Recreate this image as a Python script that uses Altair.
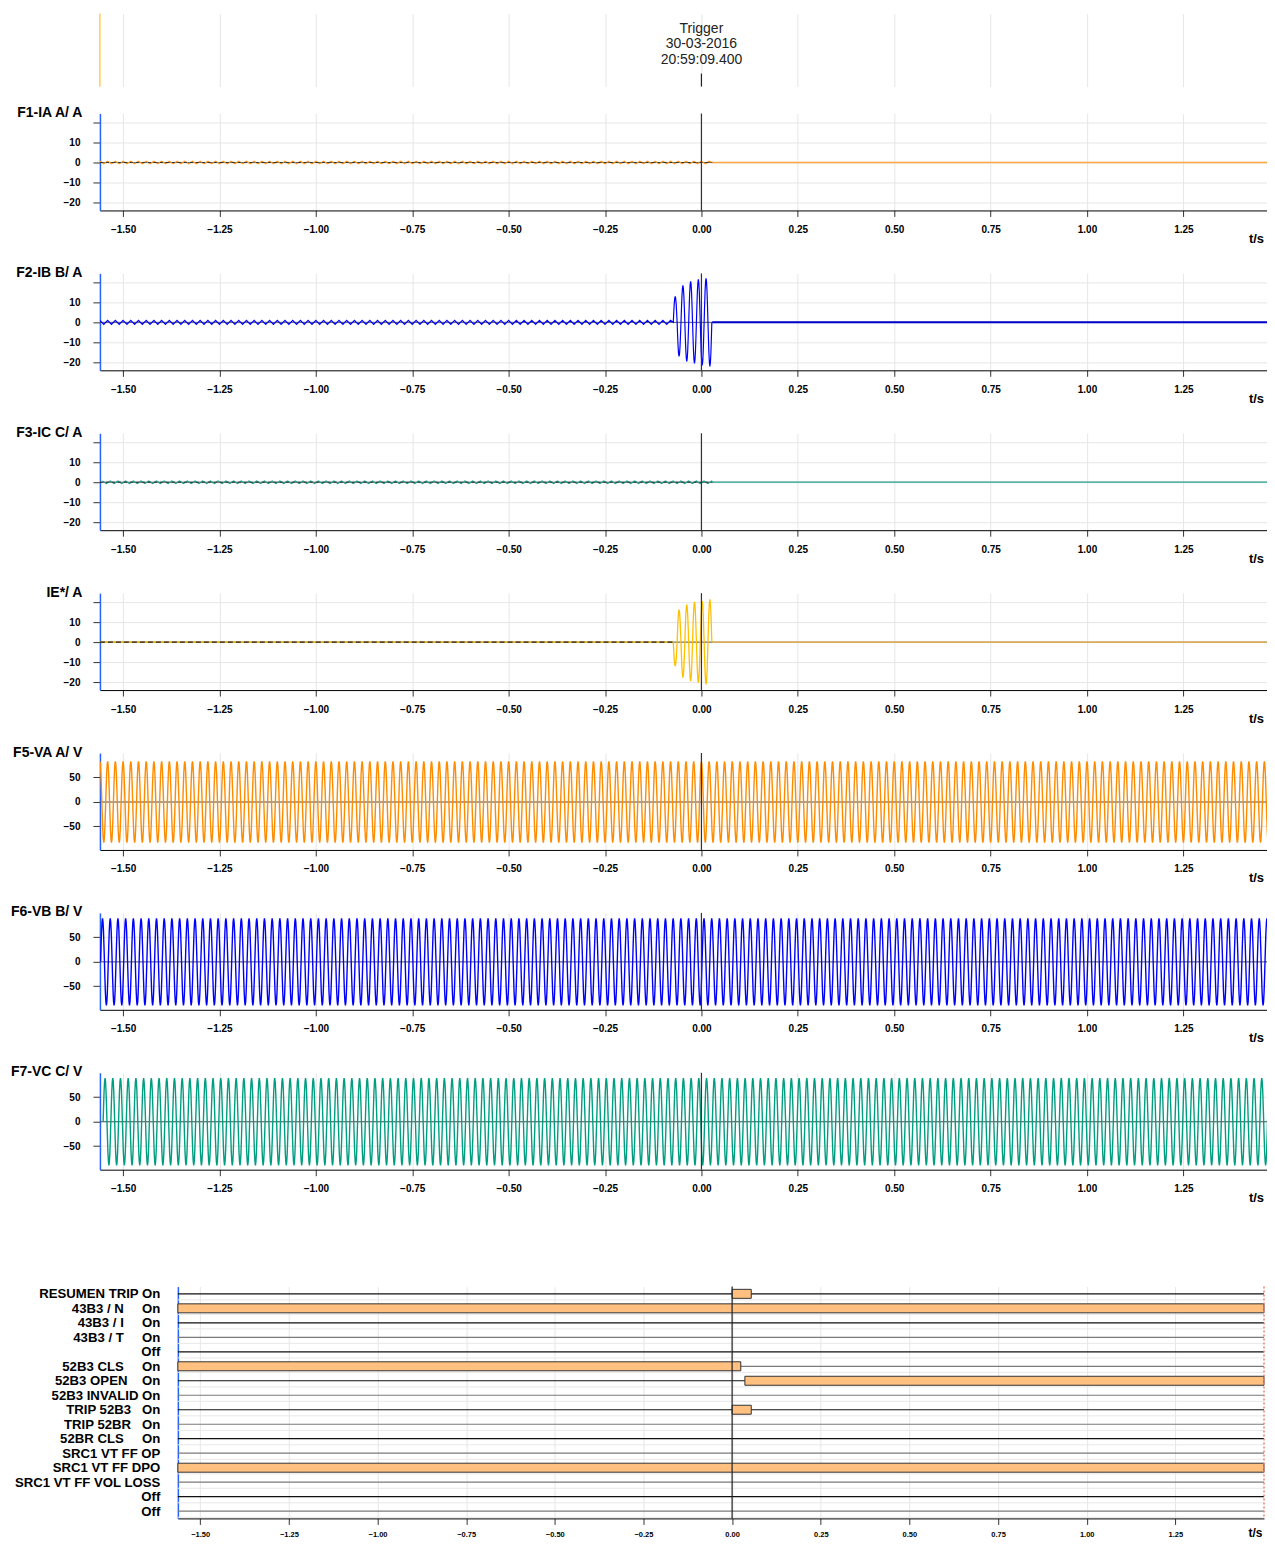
import math
import altair as alt
import pandas as pd

# ---------------- data ----------------
X_MIN, X_MAX = -1.56, 1.485          # analog time window (s)
DIG_MIN, DIG_MAX = -1.563, 1.5       # digital time window (s)
TICK_T = [-1.5, -1.25, -1.0, -0.75, -0.5, -0.25, 0.0, 0.25, 0.5, 0.75, 1.0, 1.25]
TRIGGER_T = 0.0
TRIGGER_TEXT = ["Trigger", "30-03-2016", "20:59:09.400"]
HALF_CYCLE = 0.01                    # 50 Hz
# normalised shape of one half cycle of the recorded waveform (8 samples)
HALF_SHAPE = [0.0, 0.38, 0.71, 0.92, 1.0, 0.92, 0.71, 0.38]

TITLES = ["F1-IA A/ A", "F2-IB B/ A", "F3-IC C/ A", "IE*/ A",
          "F5-VA A/ V", "F6-VB B/ V", "F7-VC C/ V"]
CUR_TICKS = [-20, -10, 0, 10, 20]
VOLT_TICKS = [-50, 0, 50]
CUR_DOMAIN = [-24, 24.5]
VOLT_DOMAIN = [-98, 100]

RIPPLE_IA = 0.6
RIPPLE_IB = 1.0
RIPPLE_IC = 0.6
CUR_RECORD_END = 0.028
FAULT_START = -0.074
FAULT_PEAK_T0 = -0.068               # time of first fault peak
IB_FAULT = [13, -17, 18.5, -19.5, 20.5, -20.5, 21.5, -21.5, 22, -22]
IE_FAULT = [-12, 16.3, -17.8, 18.8, -19.5, 20.2, -20.3, 20.5, -21.2, 21.4]

VA_PEAK, VB_PEAK, VC_PEAK = 83, 89, 89
VA_FIRST, VB_FIRST, VC_FIRST = -1.560, -1.5533, -1.5467   # first positive peak

DIG_LABELS = [
    "RESUMEN TRIP On",
    "43B3 / N" + "\u00a0" * 5 + "On",
    "43B3 / I" + "\u00a0" * 5 + "On",
    "43B3 / T" + "\u00a0" * 5 + "On",
    "Off",
    "52B3 CLS" + "\u00a0" * 5 + "On",
    "52B3 OPEN" + "\u00a0" * 4 + "On",
    "52B3 INVALID On",
    "TRIP 52B3" + "\u00a0" * 3 + "On",
    "TRIP 52BR" + "\u00a0" * 3 + "On",
    "52BR CLS" + "\u00a0" * 5 + "On",
    "SRC1 VT FF OP",
    "SRC1 VT FF DPO",
    "SRC1 VT FF VOL LOSS",
    "Off",
    "Off",
]
BAR_ROW = [0, 1, 5, 6, 8, 12]
BAR_START = [0.0, DIG_MIN, DIG_MIN, 0.036, 0.0, DIG_MIN]
BAR_END = [0.054, DIG_MAX, 0.0245, DIG_MAX, 0.054, DIG_MAX]

# ---------------- helpers ----------------
W = 1175
FONT = "Liberation Sans"
GRID = "#E6E6E6"
BLUE_AXIS = "#2563FF"


def zigzag(first_t, end_t, peak):
    ts, vs = [], []
    t, s = first_t, 1
    while t <= end_t + 1e-9:
        ts.append(t)
        vs.append(s * peak)
        t += HALF_CYCLE
        s = -s
    return ts, vs


def halfwaves(first_peak_t, peaks):
    dt = HALF_CYCLE / len(HALF_SHAPE)
    start = first_peak_t - HALF_CYCLE / 2
    ts, vs = [], []
    for i, p in enumerate(peaks):
        for j, s in enumerate(HALF_SHAPE):
            ts.append(start + i * HALF_CYCLE + j * dt)
            vs.append(p * s)
    ts.append(start + len(peaks) * HALF_CYCLE)
    vs.append(0.0)
    return ts, vs


def steady(first_peak_t, peak):
    n = int(math.ceil((X_MAX - first_peak_t) / HALF_CYCLE)) + 1
    return halfwaves(first_peak_t, [peak, -peak] * (n // 2 + 1))


def df(ts, vs):
    return pd.DataFrame({"t": ts, "v": vs})


def xenc():
    return alt.X("t:Q", scale=alt.Scale(domain=[X_MIN, X_MAX], nice=False, zero=False),
                 axis=alt.Axis(values=TICK_T, format=".2f", title="t/s", titleX=1157, titleY=28,
                               titleAlign="center", titleBaseline="middle", titleFontSize=13,
                               titleFontWeight="bold", titleColor="#000",
                               labelFontSize=10, labelFontWeight="bold", labelColor="#000",
                               labelPadding=8, tickSize=6, tickColor="#333", domainColor="#000",
                               gridColor=GRID, labelOverlap=False, labelFlush=False))


def yenc(title, domain, ticks):
    expr = "datum.value == 20 ? '' : datum.label"
    return alt.Y("v:Q", scale=alt.Scale(domain=domain, nice=False, zero=False),
                 axis=alt.Axis(values=ticks, title=title, titleAngle=0, titleX=-18, titleY=-1,
                               titleAlign="right", titleBaseline="middle", titleFontSize=14,
                               titleFontWeight="bold", titleColor="#000",
                               labelExpr=expr, labelFontSize=10, labelFontWeight="bold",
                               labelColor="#000", labelPadding=13, tickSize=7, tickColor="#333",
                               domainColor=BLUE_AXIS, domainWidth=1.5, gridColor=GRID,
                               labelOverlap=False))


def panel(title, domain, ticks, series):
    x = xenc()
    y = yenc(title, domain, ticks)
    layers = [alt.Chart(df([X_MIN, X_MAX], [0, 0])).mark_line(color="#555", strokeWidth=1)
              .encode(x=x, y=y)]
    for data, color, width, dash in series:
        kw = dict(color=color, strokeWidth=width, clip=True)
        if dash:
            kw["strokeDash"] = dash
        layers.append(alt.Chart(data).mark_line(**kw).encode(x=x, y=y))
    layers.append(alt.Chart(pd.DataFrame({"t": [TRIGGER_T]})).mark_rule(color="#333", strokeWidth=1.2)
                  .encode(x=x))
    return alt.layer(*layers).properties(width=W, height=97)


def spacer(h):
    return (alt.Chart(pd.DataFrame({"t": [0]})).mark_point(opacity=0, size=1)
            .encode(x=alt.value(0), y=alt.value(0)).properties(width=W, height=h))


# ---------------- trigger band ----------------
bx = alt.X("t:Q", scale=alt.Scale(domain=[X_MIN, X_MAX], nice=False, zero=False),
           axis=alt.Axis(values=TICK_T, grid=True, gridColor=GRID, labels=False, ticks=False,
                         domain=False, title=None))
band_layers = []
for i, line in enumerate(TRIGGER_TEXT):
    band_layers.append(
        alt.Chart(pd.DataFrame({"t": [TRIGGER_T], "label": [line]}))
        .mark_text(baseline="middle", align="center", fontSize=14, color="#222", font=FONT)
        .encode(x=bx, y=alt.value(15 + 15.5 * i), text="label:N"))
band_layers += [
    alt.Chart(pd.DataFrame({"t": [X_MIN]})).mark_rule(color="#FFB000", strokeWidth=1)
    .encode(x=bx),
    alt.Chart(pd.DataFrame({"t": [TRIGGER_T]})).mark_rule(color="#222", strokeWidth=1.2)
    .encode(x=bx, y=alt.value(60), y2=alt.value(73)),
    alt.Chart(pd.DataFrame({"t": [0]})).mark_rule(strokeOpacity=0, strokeWidth=1)
    .encode(x=alt.value(-91.5), y=alt.value(2), y2=alt.value(10)),
]
band = alt.layer(*band_layers).properties(width=W, height=73)

# ---------------- analog series ----------------
ia_t, ia_v = zigzag(X_MIN, CUR_RECORD_END, RIPPLE_IA)
ib_t, ib_v = zigzag(X_MIN, FAULT_START, RIPPLE_IB)
ic_t, ic_v = zigzag(X_MIN + 0.0067, CUR_RECORD_END, RIPPLE_IC)
ibf_t, ibf_v = halfwaves(FAULT_PEAK_T0, IB_FAULT)
ief_t, ief_v = halfwaves(FAULT_PEAK_T0, IE_FAULT)

ia = df(ia_t + [CUR_RECORD_END], ia_v + [0])
ib = df(ib_t + ibf_t, ib_v + ibf_v)
ic = df(ic_t + [CUR_RECORD_END], ic_v + [0])
ie = df([X_MIN] + ief_t, [0] + ief_v)
flat = df([CUR_RECORD_END, X_MAX], [0, 0])
pre_ia = df([X_MIN, CUR_RECORD_END], [0, 0])
pre_ie = df([X_MIN, FAULT_START], [0, 0])

va = df(*steady(VA_FIRST, VA_PEAK))
vb = df(*steady(VB_FIRST, VB_PEAK))
vc = df(*steady(VC_FIRST, VC_PEAK))

p1 = panel(TITLES[0], CUR_DOMAIN, CUR_TICKS, [
    (flat, "#FFA640", 1.5, None), (ia, "#FF9A1F", 1.2, None), (pre_ia, "#333", 1, [3, 3])])
p2 = panel(TITLES[1], CUR_DOMAIN, CUR_TICKS, [
    (flat, "#0000CC", 2, None), (ib, "#0000FF", 1.2, None)])
p3 = panel(TITLES[2], CUR_DOMAIN, CUR_TICKS, [
    (flat, "#50B8A8", 1.5, None), (ic, "#1B9E8A", 1.2, None), (pre_ia, "#333", 1, [3, 3])])
p4 = panel(TITLES[3], CUR_DOMAIN, CUR_TICKS, [
    (flat, "#F5B94A", 1.2, None), (ie, "#FFC000", 1.3, None), (pre_ie, "#222", 1.2, [5, 3])])
p5 = panel(TITLES[4], VOLT_DOMAIN, VOLT_TICKS, [(va, "#FF8C00", 1.4, None)])
p6 = panel(TITLES[5], VOLT_DOMAIN, VOLT_TICKS, [(vb, "#0000FF", 1.4, None)])
p7 = panel(TITLES[6], VOLT_DOMAIN, VOLT_TICKS, [(vc, "#009E80", 1.4, None)])

# ---------------- digital panel ----------------
label_expr = "[" + ",".join("'%s'" % s for s in DIG_LABELS) + "][datum.value]"
dx = alt.X("start:Q", scale=alt.Scale(domain=[DIG_MIN, DIG_MAX], range=[78, 1165], nice=False, zero=False),
           axis=alt.Axis(values=TICK_T, format=".2f", title="t/s", titleX=1156, titleY=14,
                         titleAlign="center", titleBaseline="middle", titleFontSize=12,
                         titleFontWeight="bold", titleColor="#000",
                         labelFontSize=7.5, labelFontWeight="bold", labelColor="#000",
                         labelPadding=6, tickSize=6, tickColor="#333", domainColor="#000",
                         gridColor=GRID, labelOverlap=False, labelFlush=False))
dy_scale = alt.Scale(domain=[-0.5, 15.5], reverse=True, nice=False, zero=False)
dy_axis = alt.Axis(values=list(range(16)), labelExpr=label_expr, offset=-78, ticks=False,
                   labelPadding=18, labelFontSize=13.2, labelFontWeight="bold", labelColor="#000",
                   labelAlign="right", labelBaseline="middle", domainColor=BLUE_AXIS,
                   domainWidth=1.5, grid=False, title=None, labelOverlap=False)
dy = alt.Y("row:Q", scale=dy_scale, axis=dy_axis)

rows = list(range(len(DIG_LABELS)))
row_df = pd.DataFrame({"start": [DIG_MIN] * len(rows), "end": [DIG_MAX] * len(rows), "row": rows,
                       "shade": ["dark" if r % 2 == 0 else "gray" for r in rows]})
sep_df = row_df.assign(row=row_df["row"] + 0.42)
bar_df = pd.DataFrame({"row": BAR_ROW, "start": BAR_START, "end": BAR_END})

digital = alt.layer(
    alt.Chart(sep_df).mark_rule(color="#E8E8E8", strokeWidth=1).encode(x=dx, x2="end:Q", y=dy),
    alt.Chart(row_df).mark_rule(strokeWidth=1.2).encode(
        x=dx, x2="end:Q", y=dy,
        color=alt.Color("shade:N", scale=alt.Scale(domain=["dark", "gray"], range=["#111", "#7A7A7A"]),
                        legend=None)),
    alt.Chart(bar_df).transform_calculate(top="datum.row - 0.31", bot="datum.row + 0.31")
    .mark_rect(fill="#FFC080", stroke="#333", strokeWidth=1)
    .encode(x=dx, x2="end:Q", y=alt.Y("top:Q", scale=dy_scale, axis=dy_axis), y2="bot:Q"),
    alt.Chart(pd.DataFrame({"start": [TRIGGER_T]})).mark_rule(color="#222", strokeWidth=1.2)
    .encode(x=dx),
    alt.Chart(pd.DataFrame({"start": [DIG_MAX]})).mark_rule(color="#F08070", strokeWidth=1.5,
                                                              strokeDash=[2, 2])
    .encode(x=dx),
).properties(width=W, height=232)

chart = alt.vconcat(
    band, spacer(27), p1, spacer(63), p2, spacer(63), p3, spacer(63), p4, spacer(63),
    p5, spacer(63), p6, spacer(63), p7, spacer(117), digital,
    spacing=0, bounds="flush",
    padding={"left": 0, "top": 4, "right": -9, "bottom": 0},
).configure(font=FONT).configure_view(stroke=None)

chart.save("out.html", embed_options={"renderer": "svg", "actions": False})
